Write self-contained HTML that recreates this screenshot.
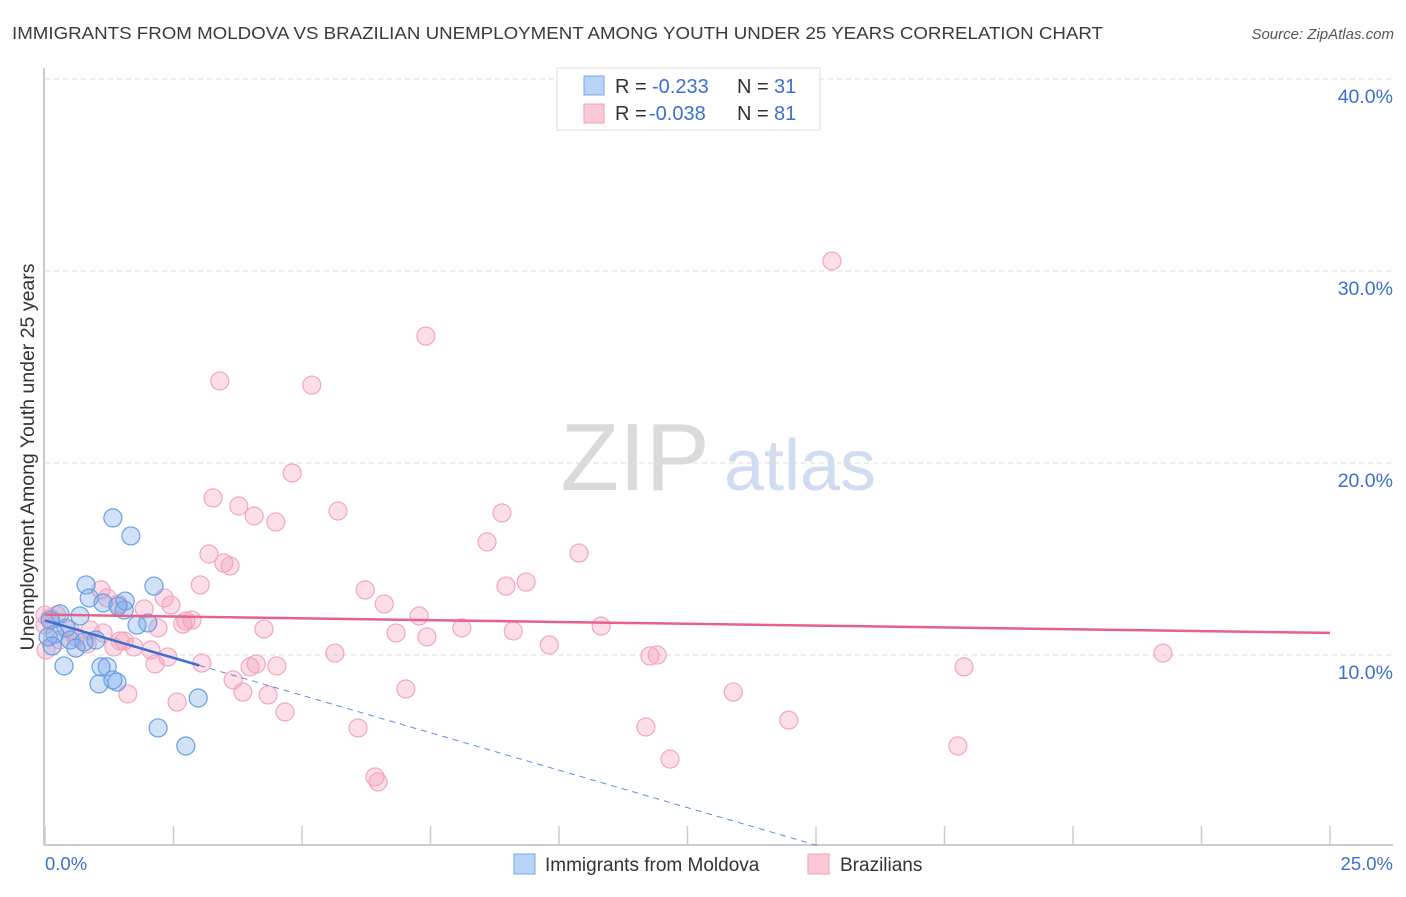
<!DOCTYPE html>
<html><head><meta charset="utf-8"><style>
body{margin:0;background:#fff;font-family:"Liberation Sans",sans-serif;}
svg text{font-family:"Liberation Sans",sans-serif;}
</style></head><body>
<svg id="chart" width="1406" height="892" viewBox="0 0 1406 892" xmlns="http://www.w3.org/2000/svg">
<text x="12" y="39" font-size="17.5" fill="#3a3a3a" textLength="1091" lengthAdjust="spacingAndGlyphs">IMMIGRANTS FROM MOLDOVA VS BRAZILIAN UNEMPLOYMENT AMONG YOUTH UNDER 25 YEARS CORRELATION CHART</text>
<text x="1394" y="39" font-size="15" fill="#555" font-style="italic" text-anchor="end">Source: ZipAtlas.com</text>
<g>
<text x="635" y="490" font-size="96" fill="#dadada" font-family="Liberation Serif" text-anchor="middle">ZIP</text>
<text x="800" y="490" font-size="72" fill="#d0ddf0" text-anchor="middle">atlas</text>
</g>
<g id="grid"></g>
<g id="axes"></g>
<g id="trend"></g>
<g id="points"></g>
<text transform="translate(34,457) rotate(-90)" font-size="19.5" fill="#333" text-anchor="middle">Unemployment Among Youth under 25 years</text>
<text x="45" y="870" font-size="18.5" fill="#3b6fd4">0.0%</text>
<text x="1393" y="870" font-size="18.5" fill="#3b6fd4" text-anchor="end">25.0%</text>
<g>
<rect x="557" y="68" width="263" height="62" fill="#fff" stroke="#ddd"/>
<rect x="584" y="76" width="20" height="19" fill="#b8d3f5" stroke="#7aa7e6"/>
<rect x="584" y="104" width="20" height="19" fill="#fbc8d6" stroke="#f0a0b8"/>
<text x="615" y="93" font-size="20" fill="#333">R = </text><text x="652" y="93" font-size="20" fill="#3b6fd4">-0.233</text>
<text x="737" y="93" font-size="20" fill="#333">N = </text><text x="774" y="93" font-size="20" fill="#3b6fd4">31</text>
<text x="615" y="120" font-size="20" fill="#333">R = </text><text x="649" y="120" font-size="20" fill="#3b6fd4">-0.038</text>
<text x="737" y="120" font-size="20" fill="#333">N = </text><text x="774" y="120" font-size="20" fill="#3b6fd4">81</text>
</g>
<g>
<rect x="514" y="854" width="21" height="20" fill="#b8d3f5" stroke="#7aa7e6"/>
<text x="545" y="871" font-size="19" fill="#333">Immigrants from Moldova</text>
<rect x="808" y="854" width="21" height="20" fill="#fbc8d6" stroke="#f0a0b8"/>
<text x="840" y="871" font-size="19" fill="#333">Brazilians</text>
</g>
</svg>
<script>
const yTicks=[10,20,30,40];
const yTickLabels=["10.0%","20.0%","30.0%","40.0%"];
const xTicks=[0,2.5,5,7.5,10,12.5,15,17.5,20,22.5,25];
const moldovaX=[1.32,1.67,0.80,2.12,0.86,1.56,1.13,1.54,2.00,1.79,0.68,0.29,0.10,0.41,0.19,0.06,0.49,0.60,0.14,0.37,1.05,1.21,1.09,1.40,1.32,2.98,2.20,2.74,0.99,1.42,0.76];
const moldovaY=[17.14,16.20,13.65,13.59,12.97,12.81,12.71,12.34,11.67,11.56,12.03,12.14,11.82,11.41,11.09,10.94,10.78,10.36,10.47,9.43,8.49,9.38,9.38,8.59,8.70,7.76,6.20,5.26,10.78,12.55,10.68];
const brazilX=[15.31,7.41,3.40,5.19,4.81,3.27,3.77,4.07,4.49,5.70,8.89,8.60,10.39,3.19,3.48,3.60,9.36,8.97,6.23,1.09,3.02,2.45,1.93,2.32,1.42,1.21,6.60,7.28,2.86,2.74,2.68,2.20,4.26,8.11,9.11,10.82,7.43,6.83,0.88,1.13,1.54,0.23,0.10,0.29,0.60,0.82,1.34,1.73,2.06,1.46,5.64,9.81,11.91,11.77,21.75,17.88,3.05,2.14,2.39,4.11,4.51,3.99,3.85,4.34,3.66,1.61,2.57,7.02,13.39,4.67,6.09,11.69,14.47,12.16,17.76,6.42,6.48,0.0,0.0,0.49,0.02];
const brazilY=[30.52,26.61,24.27,24.06,19.48,18.18,17.76,17.24,16.93,17.50,17.40,15.89,15.31,15.26,14.79,14.64,13.80,13.59,13.39,13.39,13.65,12.60,12.40,12.97,12.66,12.97,12.66,12.03,11.82,11.77,11.61,11.41,11.35,11.41,11.25,11.51,10.94,11.15,11.30,11.15,10.73,12.08,11.93,10.78,10.94,10.57,10.42,10.42,10.26,10.73,10.10,10.52,10.00,9.95,10.10,9.38,9.58,9.53,9.90,9.53,9.43,9.38,8.07,7.92,8.70,7.97,7.55,8.23,8.07,7.03,6.20,6.25,6.61,4.58,5.26,3.65,3.39,12.08,11.56,11.30,10.26];
const moldovaTrend=[11.8,-0.78];
const brazilTrend=[12.1,-0.038];

const NS="http://www.w3.org/2000/svg";
const X=v=>45+v*51.4;
const Y=v=>847-v*19.2;
function mk(tag,attrs,parent){const e=document.createElementNS(NS,tag);for(const k in attrs)e.setAttribute(k,attrs[k]);parent.appendChild(e);return e;}
const grid=document.getElementById('grid'),axes=document.getElementById('axes'),trend=document.getElementById('trend'),pts=document.getElementById('points');
yTicks.forEach((t,i)=>{
 const l=mk('line',{x1:45,x2:1393,y1:Y(t),y2:Y(t),stroke:'#ddd','stroke-dasharray':'5,4'},grid);
 
 
 const tx=mk('text',{x:1393,y:Y(t)+24,'font-size':19.5,fill:'#3b6fd4','text-anchor':'end'},grid);
 tx.textContent=yTickLabels[i];
 
 
});
const ya=mk('line',{x1:44,x2:44,y1:68,y2:845,stroke:'#bbb','stroke-width':1.5},axes);


const xa=mk('line',{x1:44,x2:1393,y1:845,y2:845,stroke:'#bbb','stroke-width':1.5},axes);


xTicks.forEach(t=>{
 const l=mk('line',{x1:X(t),x2:X(t),y1:826,y2:845,stroke:'#ccc','stroke-width':1.5},axes);
 
 
});
const ms=mk('line',{x1:X(0),y1:Y(moldovaTrend[0]),x2:X(3),y2:Y(moldovaTrend[0]+moldovaTrend[1]*3),stroke:'#3a6fd0','stroke-width':2.5},trend);


const xEnd=-moldovaTrend[0]/moldovaTrend[1];
const md=mk('line',{x1:X(3),y1:Y(moldovaTrend[0]+moldovaTrend[1]*3),x2:X(xEnd),y2:Y(0),stroke:'#5a8ee0','stroke-width':1,'stroke-dasharray':'6,5'},trend);


const bt=mk('line',{x1:X(0),y1:Y(brazilTrend[0]),x2:X(25),y2:Y(brazilTrend[0]+brazilTrend[1]*25),stroke:'#e8608e','stroke-width':2.5},trend);


brazilX.forEach((x,i)=>{
 const c=mk('circle',{cx:X(x),cy:Y(brazilY[i]),r:9,fill:'rgba(244,160,188,0.35)',stroke:'#f2a6bd','stroke-width':1.2},pts);
 
 
});
moldovaX.forEach((x,i)=>{
 const c=mk('circle',{cx:X(x),cy:Y(moldovaY[i]),r:9,fill:'rgba(120,170,235,0.35)',stroke:'#6a9fe3','stroke-width':1.2},pts);
 
 
});
pts.parentNode.appendChild(trend);
</script>
</body></html>
